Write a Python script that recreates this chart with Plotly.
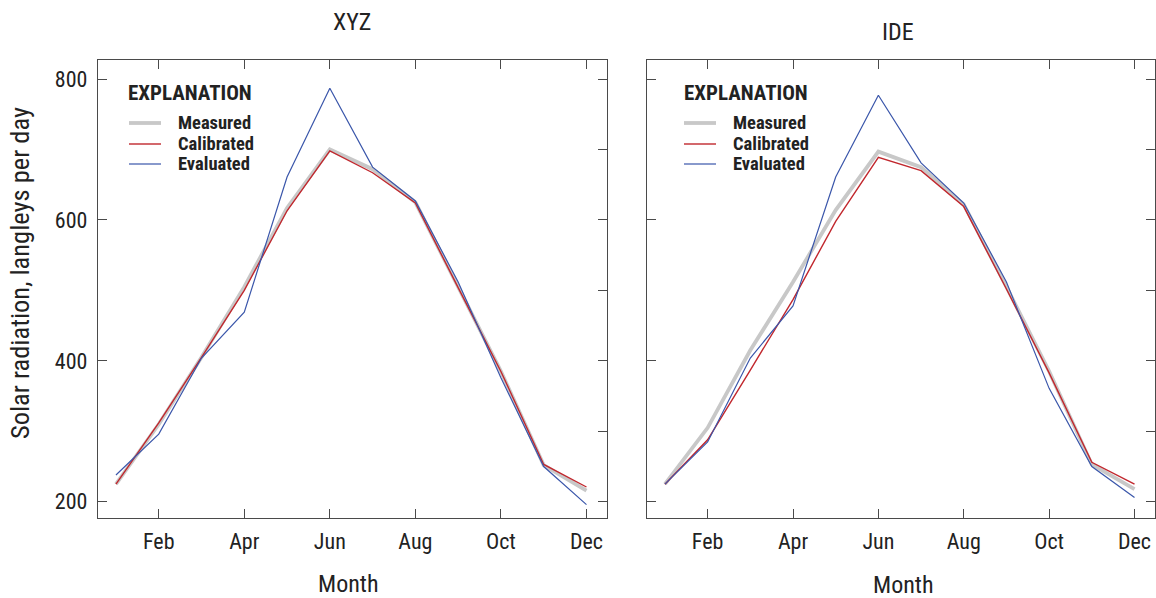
import plotly.graph_objects as go

months = ["Jan", "Feb", "Mar", "Apr", "May", "Jun", "Jul", "Aug", "Sep", "Oct", "Nov", "Dec"]
month_num = list(range(1, 13))
tick_vals = [2, 4, 6, 8, 10, 12]
tick_text = ["Feb", "Apr", "Jun", "Aug", "Oct", "Dec"]

# XYZ station
xyz_measured = [225, 310, 405, 505, 617, 700, 672, 625, 505, 385, 252, 216]
xyz_calibrated = [225, 312, 405, 500, 613, 698, 667, 624, 504, 385, 253, 221]
xyz_evaluated = [238, 296, 404, 469, 661, 787, 675, 627, 512, 376, 250, 196]

# IDE station
ide_measured = [225, 305, 415, 512, 614, 697, 675, 622, 505, 385, 253, 218]
ide_calibrated = [225, 288, 387, 487, 598, 689, 670, 619, 502, 383, 256, 225]
ide_evaluated = [225, 285, 404, 478, 661, 777, 681, 624, 512, 361, 250, 206]

series_names = ["Measured", "Calibrated", "Evaluated"]

FONT = "Liberation Sans Narrow, Arial Narrow, Roboto Condensed, DejaVu Sans Condensed, sans-serif"
GRAY = "#c8c8c8"
RED = "#c1272d"
BLUE = "#3a56aa"
AX = "#4a4a4a"
TXT = "#222222"
colors = [GRAY, RED, BLUE]
widths = [3.8, 1.4, 1.2]

# page layout (body margin removed by post_script below)
FIG_W, FIG_H = 1156, 598
PL, PR, PT, PB = 98, 1155, 60, 518  # plot area in page pixels
ML, MT, MR, MB = PL, PT, FIG_W - PR, FIG_H - PB
PW, PH = PR - PL, PB - PT


def px(xp):
    return (xp - PL) / PW


def py(yp):
    return (PB - yp) / PH


D1 = [0, px(607)]
D2 = [px(647), 1.0]

fig = go.Figure()

panels = [
    ("x", "y", [xyz_measured, xyz_calibrated, xyz_evaluated]),
    ("x2", "y2", [ide_measured, ide_calibrated, ide_evaluated]),
]
for xa, ya, vals in panels:
    for name, color, w, v in zip(series_names, colors, widths, vals):
        fig.add_trace(go.Scatter(
            x=month_num, y=v, mode="lines", name=name,
            line=dict(color=color, width=w),
            xaxis=xa, yaxis=ya, showlegend=False,
        ))

XR = [0.58, 12.48]
YR = [177, 827]

xcommon = dict(
    range=XR, tickvals=tick_vals, ticktext=tick_text, ticks="inside", ticklen=9,
    tickwidth=1.2, tickcolor=AX, showline=True, linecolor=AX, linewidth=1.3,
    mirror="ticks", showgrid=False, zeroline=False,
    tickfont=dict(family=FONT, size=22, color=TXT), ticklabelstandoff=3,
)
ycommon = dict(
    range=YR, tickvals=[200, 400, 600, 800], ticks="inside", ticklen=9,
    tickwidth=1.2, tickcolor=AX, showline=True, linecolor=AX, linewidth=1.3,
    showgrid=False, zeroline=False, mirror=True,
    tickfont=dict(family=FONT, size=22, color=TXT),
)
yright = dict(
    range=YR, dtick=100, tick0=0, ticks="inside", ticklen=9, tickwidth=1.2,
    tickcolor=AX, showticklabels=False, showline=False, showgrid=False,
    zeroline=False, side="right",
)

fig.update_layout(
    width=FIG_W, height=FIG_H,
    margin=dict(l=ML, r=MR, t=MT, b=MB, pad=0),
    paper_bgcolor="white", plot_bgcolor="white",
    xaxis=dict(domain=D1, anchor="y", **xcommon),
    xaxis2=dict(domain=D2, anchor="y2", **xcommon),
    yaxis=dict(domain=[0, 1], anchor="x", ticklabelstandoff=5, **ycommon),
    yaxis2=dict(domain=[0, 1], anchor="x2", showticklabels=False, **ycommon),
    yaxis3=dict(overlaying="y", anchor="x", **yright),
    yaxis4=dict(overlaying="y2", anchor="x2", **yright),
    showlegend=False,
)

# invisible traces to activate right-side tick axes
fig.add_trace(go.Scatter(x=[None], y=[None], xaxis="x", yaxis="y3", showlegend=False, hoverinfo="skip"))
fig.add_trace(go.Scatter(x=[None], y=[None], xaxis="x2", yaxis="y4", showlegend=False, hoverinfo="skip"))

# Explanation (legend) boxes drawn inside each panel
legend_spots = [(126, 129, 176), (682, 684, 731)]  # title left, key left, label left (page px)
row_y = [123, 144, 164]
for tx, kx, lx in legend_spots:
    fig.add_annotation(text="<b>EXPLANATION</b>", xref="paper", yref="paper", x=px(tx), y=py(93),
                       xanchor="left", yanchor="middle", showarrow=False,
                       font=dict(family=FONT, size=21, color=TXT))
    for name, color, w, yy in zip(series_names, colors, widths, row_y):
        fig.add_shape(type="line", xref="paper", yref="paper", x0=px(kx), x1=px(kx + 32),
                      y0=py(yy), y1=py(yy), line=dict(color=color, width=w))
        fig.add_annotation(text="<b>" + name + "</b>", xref="paper", yref="paper", x=px(lx), y=py(yy),
                           xanchor="left", yanchor="middle", showarrow=False,
                           font=dict(family=FONT, size=18.5, color=TXT))

tfont = dict(family=FONT, size=24, color=TXT)
fig.add_annotation(text="XYZ", xref="paper", yref="paper", x=px(352), y=py(22),
                   showarrow=False, font=tfont, xanchor="center", yanchor="middle")
fig.add_annotation(text="IDE", xref="paper", yref="paper", x=px(898), y=py(32),
                   showarrow=False, font=tfont, xanchor="center", yanchor="middle")
fig.add_annotation(text="Month", xref="paper", yref="paper", x=px(348), y=py(584),
                   showarrow=False, font=tfont, xanchor="center", yanchor="middle")
fig.add_annotation(text="Month", xref="paper", yref="paper", x=px(903), y=py(585),
                   showarrow=False, font=tfont, xanchor="center", yanchor="middle")
fig.add_annotation(text="Solar radiation, langleys per day", xref="paper", yref="paper",
                   x=px(19), y=py(273), textangle=-90, showarrow=False,
                   font=dict(family=FONT, size=26.5, color=TXT),
                   xanchor="center", yanchor="middle")

fig.write_html(
    "out.html",
    config={"displayModeBar": False},
    post_script="document.body.style.margin='0';document.body.style.overflow='hidden';",
)
